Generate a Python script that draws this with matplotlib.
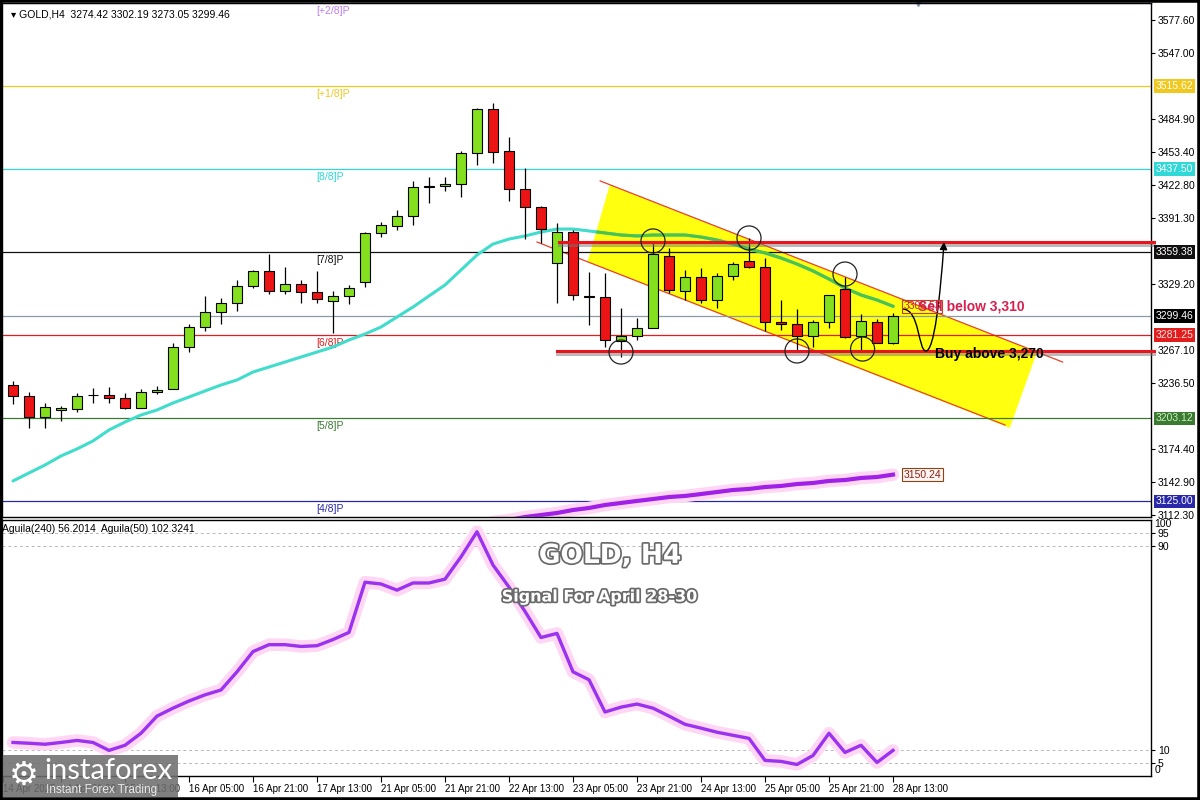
import matplotlib
matplotlib.use('Agg')
import matplotlib.pyplot as plt
import matplotlib.transforms as mtransforms
import matplotlib.patheffects as pe
from matplotlib.patches import Polygon, FancyArrowPatch, Rectangle
from matplotlib.path import Path

plt.rcParams['font.family'] = ['Liberation Sans', 'DejaVu Sans']

# H4 candles, bar 0 = 14 Apr 09:00 ... bar 55 = 28 Apr 13:00
opens = [3234.5, 3224.2, 3204.4, 3211.0, 3211.9, 3224.8, 3225.1, 3222.3, 3212.9, 3227.9,
         3230.7, 3270.2, 3289.0, 3303.1, 3311.6, 3327.6, 3341.7, 3322.9, 3329.4, 3322.0,
         3313.5, 3318.2, 3331.3, 3377.4, 3384.0, 3393.4, 3420.6, 3421.6, 3423.4, 3452.6,
         3493.9, 3454.5, 3418.7, 3401.8, 3349.2, 3378.3, 3318.2, 3317.2, 3275.9, 3280.6,
         3288.1, 3355.8, 3322.9, 3336.0, 3314.4, 3337.0, 3351.1, 3345.4, 3293.7, 3291.8,
         3280.6, 3293.7, 3324.7, 3280.6, 3293.7, 3274.42]
highs = [3238.3, 3227.9, 3217.6, 3214.8, 3227.0, 3231.7, 3232.6, 3227.0, 3230.7, 3233.6,
         3274.0, 3291.8, 3318.2, 3316.3, 3333.2, 3342.5, 3357.6, 3345.4, 3333.2, 3341.7,
         3322.9, 3328.5, 3378.3, 3387.7, 3399.0, 3426.3, 3430.0, 3430.0, 3454.5, 3494.9,
         3499.6, 3467.6, 3438.5, 3403.0, 3386.8, 3380.0, 3340.7, 3339.8, 3306.9, 3297.5,
         3368.0, 3363.3, 3342.6, 3344.5, 3339.8, 3350.1, 3372.7, 3353.9, 3314.4, 3305.9,
         3295.6, 3319.1, 3336.0, 3301.2, 3296.5, 3302.19]
lows = [3216.6, 3194.1, 3194.1, 3200.6, 3209.1, 3217.6, 3217.6, 3211.9, 3212.5, 3226.0,
        3230.5, 3265.5, 3285.3, 3291.8, 3304.1, 3325.7, 3320.0, 3320.0, 3311.6, 3311.6,
        3283.4, 3310.6, 3326.6, 3374.0, 3380.2, 3384.9, 3405.6, 3416.9, 3411.2, 3441.3,
        3443.2, 3407.5, 3371.7, 3368.0, 3311.6, 3314.4, 3290.9, 3270.2, 3260.8, 3276.8,
        3288.0, 3321.0, 3314.4, 3311.6, 3306.9, 3333.2, 3344.5, 3285.3, 3286.2, 3265.5,
        3270.2, 3288.1, 3278.7, 3267.4, 3273.9, 3273.05]
closes = [3224.2, 3204.4, 3213.8, 3212.9, 3224.2, 3225.3, 3222.3, 3212.9, 3227.9, 3229.8,
          3270.2, 3289.0, 3303.1, 3311.6, 3327.6, 3341.7, 3322.9, 3329.4, 3322.0, 3315.3,
          3318.2, 3325.7, 3377.4, 3384.9, 3393.4, 3420.6, 3421.6, 3423.4, 3452.6, 3493.9,
          3453.5, 3418.7, 3401.8, 3381.1, 3378.3, 3319.1, 3317.2, 3276.8, 3280.6, 3288.1,
          3357.6, 3323.8, 3336.0, 3314.4, 3337.0, 3348.2, 3345.4, 3293.7, 3291.8, 3280.6,
          3293.7, 3319.1, 3279.6, 3294.7, 3274.4, 3299.46]

# fast moving average (cyan)
ma_fast = [3144.3, 3151.8, 3159.3, 3167.8, 3174.4, 3181.9, 3192.2, 3199.7, 3206.3, 3211.0,
           3217.6, 3223.2, 3228.9, 3234.5, 3239.2, 3246.7, 3251.4, 3256.1, 3260.8, 3265.5,
           3270.2, 3276.8, 3282.4, 3289.0, 3298.4, 3307.8, 3318.2, 3328.5, 3342.6, 3356.7,
           3367.0, 3371.7, 3374.6, 3378.3, 3381.1, 3381.1, 3379.3, 3377.4, 3375.5, 3374.6,
           3375.5, 3375.5, 3375.5, 3373.6, 3370.8, 3367.0, 3362.3, 3358.6, 3353.9, 3348.2,
           3341.7, 3334.1, 3325.7, 3319.1, 3314.4, 3308.53]

# slow moving average (purple), bars 30..55
ma_slow_start = 30
ma_slow = [3105.7, 3107.6, 3110.4, 3112.3, 3114.2, 3117.0, 3118.9, 3121.7, 3123.6, 3125.5,
           3127.3, 3129.2, 3130.2, 3132.0, 3133.9, 3135.8, 3136.8, 3138.6, 3139.6, 3141.4,
           3142.4, 3144.3, 3145.2, 3147.1, 3148.0, 3150.24]

# Aguila oscillator
aguila = [13.1, 12.8, 12.4, 13.1, 13.9, 13.1, 10.0, 12.0, 16.7, 23.4,
          26.5, 29.3, 31.7, 33.6, 40.7, 48.6, 51.3, 51.3, 50.6, 50.9,
          53.3, 56.1, 75.7, 75.0, 72.6, 75.4, 75.4, 76.9, 85.6, 95.4,
          82.4, 73.8, 64.3, 54.1, 55.7, 40.7, 37.6, 25.0, 26.9, 28.1,
          26.5, 23.4, 20.2, 18.7, 17.1, 15.9, 14.7, 6.1, 5.7, 4.5,
          8.0, 16.7, 9.2, 12.0, 5.3, 10.0]

# Murrey math levels
levels = [3593.75, 3515.62, 3437.50, 3359.38, 3281.25, 3203.12, 3125.00]
level_names = ['[+2/8]P', '[+1/8]P', '[8/8]P', '[7/8]P', '[6/8]P', '[5/8]P', '[4/8]P']
level_colors = ['#c07cf0', '#f0c81e', '#30d8d8', '#111111', '#e01e1e', '#3c7a32', '#2828a8']
level_box_fg = ['white', 'white', 'white', 'white', '#ffe0e0', '#c8f0c0', 'white']

price_ticks = [3577.60, 3547.00, 3484.90, 3453.40, 3422.80, 3391.30, 3329.20,
               3267.10, 3236.50, 3174.40, 3142.90, 3112.30]
last_price = 3299.46

tick_bars = [-0.6, 3, 7, 11, 15, 19, 23, 27, 31, 35, 39, 43, 47, 51, 55]
tick_labels = ['14 Apr 2025', '14 Apr 21:00', '15 Apr 13:00', '16 Apr 05:00', '16 Apr 21:00',
               '17 Apr 13:00', '21 Apr 05:00', '21 Apr 21:00', '22 Apr 13:00', '23 Apr 05:00',
               '23 Apr 21:00', '24 Apr 13:00', '25 Apr 05:00', '25 Apr 21:00', '28 Apr 13:00']

# drawing objects (bar index, price)
resist_level = 3369.0
support_level = 3266.5
channel_upper = ([36.7, 65.6], [3426.3, 3256.1])
channel_lower = ([32.75, 62.0], [3368.9, 3196.9])
channel_box_x = [37.3, 64.0, 62.3, 35.9]
channel_box_y = [3422.5, 3265.5, 3194.1, 3350.1]
circle_bars = [38, 40, 46, 52, 49, 53.1]
circle_prices = [3265.5, 3369.9, 3372.7, 3338.8, 3266.5, 3268.3]
arrow_x = [55.6, 56.69, 56.56, 57.06, 57.56, 57.94, 58.19]
arrow_y = [3305.9, 3305.9, 3266.5, 3266.5, 3266.5, 3314.4, 3369.0]

bull = '#84e01e'
bear = '#ec1414'

fig = plt.figure(figsize=(12, 8), dpi=100)
ax = fig.add_axes([2 / 1200, 1 - 517 / 800, 1149 / 1200, 514 / 800])
ax2 = fig.add_axes([2 / 1200, 1 - 776 / 800, 1149 / 1200, 256 / 800])

x_lim = (-0.6875, 71.125)
ax.set_xlim(*x_lim)
ax.set_ylim(3110.42, 3593.58)
bars = list(range(len(opens)))

# yellow channel
chan = Polygon(list(zip(channel_box_x, channel_box_y)), closed=True, fc='#ffff10', ec='none', zorder=1)
ax.add_patch(chan)
ax.plot(channel_upper[0], channel_upper[1], color='#e8402a', lw=0.9, zorder=2)
ax.plot(channel_lower[0], channel_lower[1], color='#e8402a', lw=0.9, zorder=2)

# levels
for lv, nm, col in zip(levels, level_names, level_colors):
    ax.axhline(lv, color=col, lw=0.9, zorder=2)
    ax.annotate(nm, xy=(0.2735, lv), xycoords=('axes fraction', 'data'), xytext=(0, -2),
                textcoords='offset points', ha='left', va='top', fontsize=7.5, color=col, zorder=3)
ax.axhline(last_price, color='#8c9aa8', lw=0.9, zorder=2)

# moving averages
ax.plot(bars, ma_fast, color='#40dccc', lw=2.2, zorder=3, solid_capstyle='round')
inner, = ax.plot(bars, ma_fast, color='#4cc24c', lw=2.2, zorder=3)
inner.set_clip_path(chan)
slow_x = list(range(ma_slow_start, ma_slow_start + len(ma_slow)))
ax.plot(slow_x, ma_slow, color='#ffd6f4', lw=9, zorder=2.5, solid_capstyle='round')
ax.plot(slow_x, ma_slow, color='#a020e8', lw=3, zorder=3)

# candles
for i in bars:
    o, h, l, c = opens[i], highs[i], lows[i], closes[i]
    col = bull if c >= o else bear
    ax.vlines(i, l, h, color='black', lw=0.9, zorder=4)
    ax.bar(i, max(abs(c - o), 0.4), bottom=min(o, c), width=0.62, color=col,
           edgecolor='black', linewidth=0.8, zorder=5)

# support / resistance lines with shadow
shadow = [pe.SimpleLineShadow(offset=(0, -2.2), shadow_color='#777777', alpha=0.5), pe.Normal()]
ax.plot([34.1, x_lim[1] + 0.2], [resist_level, resist_level], color='#e8141e', lw=2.2,
        zorder=6, clip_on=False, path_effects=shadow)
ax.plot([34.0, x_lim[1] + 0.2], [support_level, support_level], color='#e8141e', lw=2.2,
        zorder=6, clip_on=False, path_effects=shadow)

ax.scatter(circle_bars, circle_prices, s=300, facecolors='none', edgecolors='#222222',
           linewidths=0.9, zorder=7)

codes = [Path.MOVETO, Path.CURVE4, Path.CURVE4, Path.CURVE4, Path.CURVE4, Path.CURVE4, Path.CURVE4]
arr = FancyArrowPatch(path=Path(list(zip(arrow_x, arrow_y)), codes), arrowstyle='-|>',
                      mutation_scale=11, color='black', lw=1.0, zorder=8)
ax.add_patch(arr)

# texts on chart
ax.text(56.55, 3308.0, 'Sell below 3,310', color='#d8204e', fontsize=10, fontweight='bold',
        ha='left', va='center', zorder=9)
ax.text(57.6, 3264.0, 'Buy above 3,270', color='black', fontsize=10, fontweight='bold',
        ha='left', va='center', zorder=9)
ax.text(55.65, ma_fast[-1], '%.2f' % ma_fast[-1], color='#c8281e', fontsize=7.5, ha='left',
        va='center', zorder=8, bbox=dict(boxstyle='square,pad=0.15', fc='none', ec='#c04020', lw=0.8))
ax.text(55.65, ma_slow[-1], '%.2f' % ma_slow[-1], color='#8b2010', fontsize=7.5, ha='left',
        va='center', zorder=8, bbox=dict(boxstyle='square,pad=0.15', fc='#fff4f4', ec='#8b4513', lw=0.8))

ax.text(0.008, 0.988, '\u25be GOLD,H4  3274.42 3302.19 3273.05 3299.46', transform=ax.transAxes,
        fontsize=7.5, ha='left', va='top')
ax.plot([0.797], [1.0], marker='v', color='#7a90a8', ms=5, transform=ax.transAxes, clip_on=False)

# right axis
ax.yaxis.tick_right()
ax.set_yticks(price_ticks)
ax.set_yticklabels(['%.2f' % p for p in price_ticks], fontsize=7.5)
ax.tick_params(axis='y', direction='out', length=3, width=0.8, pad=2)
ax.set_xticks([])
trans = mtransforms.blended_transform_factory(ax.transAxes, ax.transData)
box_vals = levels[1:] + [last_price]
box_bg = level_colors[1:] + ['black']
box_fg = level_box_fg[1:] + ['white']
for v, bg, fg in zip(box_vals, box_bg, box_fg):
    ax.text(1.004, v, '%.2f' % v, transform=trans, fontsize=7.5, color=fg, ha='left', va='center',
            bbox=dict(boxstyle='square,pad=0.18', fc=bg, ec='none'), zorder=10, clip_on=False)
for s in ax.spines.values():
    s.set_linewidth(1.0)

# indicator panel
ax2.set_xlim(*x_lim)
ax2.set_ylim(0, 100)
ax2.plot(bars, aguila, color='#ffd6f4', lw=9, solid_capstyle='round', zorder=1)
ax2.plot(bars, aguila, color='#9a32f0', lw=2.4, zorder=2)
for g in [95, 90, 10, 5]:
    ax2.axhline(g, color='#b8b8b8', lw=0.7, dashes=(3, 3), zorder=0)
ax2.yaxis.tick_right()
ax2.set_yticks([95, 90, 10, 5])
ax2.set_yticklabels(['95', '90', '10', '5'], fontsize=7.5)
ax2.tick_params(axis='y', direction='out', length=3, width=0.8, pad=2)
ax2.text(1.003, 98.3, '100', transform=mtransforms.blended_transform_factory(ax2.transAxes, ax2.transData),
         fontsize=7.5, ha='left', va='center')
ax2.text(1.003, 2.4, '0', transform=mtransforms.blended_transform_factory(ax2.transAxes, ax2.transData),
         fontsize=7.5, ha='left', va='center')
ax2.set_xticks(tick_bars)
ax2.set_xticklabels(tick_labels, fontsize=7, ha='left')
ax2.tick_params(axis='x', direction='out', length=4, width=0.8, pad=2)
ax2.text(0.0, 0.985, 'Aguila(240) 56.2014  Aguila(50) 102.3241', transform=ax2.transAxes,
         fontsize=7.5, ha='left', va='top')
for s in ax2.spines.values():
    s.set_linewidth(1.0)

outline = [pe.withStroke(linewidth=2.5, foreground='#6a6a6a')]
fig.text(610 / 1200, 1 - 556 / 800, 'GOLD, H4', fontsize=19, fontweight='bold', color='white',
         ha='center', va='center', family='DejaVu Sans', path_effects=outline)
fig.text(600 / 1200, 1 - 597 / 800, 'Signal For April 28-30', fontsize=11.5, fontweight='bold',
         color='white', ha='center', va='center', family='DejaVu Sans', path_effects=outline)

# logo
fig.patches.append(Rectangle((2 / 1200, 3 / 800), 176 / 1200, 42 / 800, transform=fig.transFigure,
                             fc='#6e6e6e', ec='none', alpha=0.88, zorder=20))
fig.text(24 / 1200, 1 - 775 / 800, '\u2699', fontsize=24, color='white', ha='center', va='center',
         family='DejaVu Sans', zorder=21)
fig.text(44 / 1200, 1 - 771 / 800, 'instaforex', fontsize=21, color='white', ha='left', va='center',
         family='Lato', zorder=21)
fig.text(46 / 1200, 1 - 790 / 800, 'Instant Forex Trading', fontsize=8.5, color='#e8e8e8',
         ha='left', va='center', zorder=21)

fig.patches.append(Rectangle((0, 0), 1, 1, transform=fig.transFigure, fc='none', ec='black',
                             lw=4, zorder=30))

fig.savefig('out.png', dpi=100, facecolor='white')
